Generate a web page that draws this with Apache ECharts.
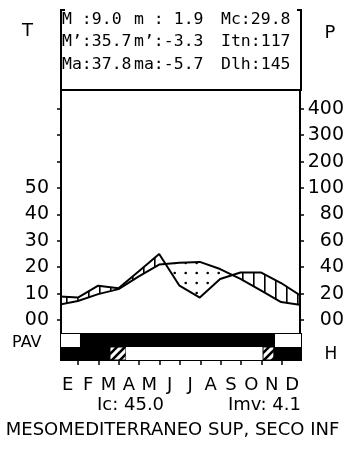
<!DOCTYPE html>
<html>
<head>
<meta charset="utf-8">
<script src="https://cdn.jsdelivr.net/npm/echarts@6/dist/echarts.min.js"></script>
<style>
html, body { margin: 0; padding: 0; background: #fff; }
#chart { width: 347px; height: 449px; }
</style>
</head>
<body>
<div id="chart"></div>
<script>
// monthly values
const months = ['E', 'F', 'M', 'A', 'M', 'J', 'J', 'A', 'S', 'O', 'N', 'D']
const temp = [5.7, 7.2, 9.8, 11.7, 16.5, 21.0, 21.7, 22.0, 19.3, 15.6, 11.2, 6.8]   // degC
const precip = [18, 17, 26, 24, 37, 50, 26, 17, 31, 36, 36, 28]                       // mm
const tempTicks = [0, 10, 20, 30, 40, 50, 60, 70, 80]
const tempLabels = ['00', '10', '20', '30', '40', '50']
const precipLabels = ['00', '20', '40', '60', '80', '100', '200', '300', '400']

// PAV band, [from, to, kind] in month units
const frostRow = [[0, 1.1, 'white'], [1.1, 10.66, 'black'], [10.66, 12, 'white']]
const pavRow = [[0, 2.57, 'black'], [2.57, 3.35, 'hatch'], [3.35, 10.07, 'white'], [10.07, 10.6, 'hatch'], [10.6, 12, 'black']]

const headerRows = [
  ['M :9.0', 'm : 1.9', 'Mc:29.8'],
  ['M\u2019:35.7', 'm\u2019:-3.3', 'Itn:117'],
  ['Ma:37.8', 'ma:-5.7', 'Dlh:145']
]
const indexTexts = ['Ic: 45.0', 'Imv: 4.1']
const bioclimate = 'MESOMEDITERRANEO SUP, SECO INF'

const SANS = '"DejaVu Sans", sans-serif'
const MONO = '"DejaVu Sans Mono", monospace'

// precipitation on the temperature scale: 1:2 up to 100 mm, 1:20 above
function pAxis(p) { return p <= 100 ? p / 2 : 50 + (p - 100) / 10 }

function makePattern(w, h, draw) {
  const c = document.createElement('canvas')
  c.width = w; c.height = h
  const ctx = c.getContext('2d')
  draw(ctx)
  return { image: c, repeat: 'repeat' }
}
const humidFill = makePattern(11, 4, ctx => { ctx.fillStyle = '#000'; ctx.fillRect(0, 0, 1.6, 4) })
const dryFill = makePattern(11, 10, ctx => {
  ctx.fillStyle = '#000'; ctx.beginPath(); ctx.arc(9.7, 3, 1.3, 0, Math.PI * 2); ctx.fill()
})
const diagFill = makePattern(8, 8, ctx => {
  ctx.fillStyle = '#fff'; ctx.fillRect(0, 0, 8, 8)
  ctx.strokeStyle = '#000'; ctx.lineWidth = 2.6
  ctx.beginPath()
  ctx.moveTo(-2, 10); ctx.lineTo(10, -2)
  ctx.moveTo(-2, 2); ctx.lineTo(2, -2)
  ctx.moveTo(6, 10); ctx.lineTo(10, 6)
  ctx.stroke()
})

const idx = months.map((_, i) => i).concat([12])   // January repeated at the right edge
const tempLine = idx.map(i => [i, temp[i % 12]])
const precLine = idx.map(i => [i, pAxis(precip[i % 12])])
const between = months.map((_, i) => {
  const j = (i + 1) % 12
  return [i, temp[i], pAxis(precip[i]), temp[j], pAxis(precip[j])]
})
const bandItems = frostRow.map(r => [r[0], r[1], 1, r[2]]).concat(pavRow.map(r => [r[0], r[1], 0, r[2]]))

function renderBetween(params, api) {
  const x0 = api.value(0), x1 = x0 + 1
  const t0 = api.value(1), p0 = api.value(2), t1 = api.value(3), p1 = api.value(4)
  const d0 = p0 - t0, d1 = p1 - t1
  const poly = (pts, humid) => ({
    type: 'polygon',
    shape: { points: pts.map(p => api.coord(p)) },
    style: { fill: humid ? humidFill : dryFill, stroke: null }
  })
  const children = []
  if (d0 * d1 >= 0) {
    children.push(poly([[x0, p0], [x1, p1], [x1, t1], [x0, t0]], d0 + d1 >= 0))
  } else {
    const f = d0 / (d0 - d1)
    const c = [x0 + f, t0 + f * (t1 - t0)]
    children.push(poly([[x0, p0], c, [x0, t0]], d0 > 0))
    children.push(poly([c, [x1, p1], [x1, t1]], d1 > 0))
  }
  return { type: 'group', children }
}

function renderBand(params, api) {
  const kind = bandItems[params.dataIndex][3]
  const a = api.coord([api.value(0), api.value(2) + 1])
  const b = api.coord([api.value(1), api.value(2)])
  return {
    type: 'rect',
    shape: { x: a[0], y: a[1], width: b[0] - a[0], height: b[1] - a[1] },
    style: {
      fill: kind === 'black' ? '#000' : kind === 'hatch' ? diagFill : '#fff',
      stroke: kind === 'hatch' ? '#000' : null,
      lineWidth: 1
    }
  }
}

const xRange = { min: 0.17, max: 11.93 }
const yRange = { min: -5.3, max: 87.1 }

const headerText = []
const colX = [62, 134, 221], rowY = [19.5, 41.5, 65]
headerRows.forEach((row, r) => row.forEach((t, c) => headerText.push({
  type: 'text', x: colX[c], y: rowY[r],
  style: { text: t, font: '16.5px ' + MONO, fill: '#000', verticalAlign: 'middle' }
})))

const chart = echarts.init(document.getElementById('chart'), null, { renderer: 'canvas' })
chart.setOption({
  animation: false,
  backgroundColor: '#fff',
  grid: [
    { left: 61, top: 90, width: 240, height: 244, show: true, borderColor: '#000', borderWidth: 2, backgroundColor: '#fff' },
    { left: 61, top: 334, width: 240, height: 26, show: true, borderColor: '#000', borderWidth: 2 }
  ],
  xAxis: [
    { gridIndex: 0, type: 'value', ...xRange, show: false },
    {
      gridIndex: 1, type: 'value', ...xRange,
      axisLine: { show: false },
      splitLine: { show: false },
      axisTick: { customValues: [1, 2, 3, 4, 5, 6, 7, 8, 9, 10, 11], length: 5, lineStyle: { color: '#000', width: 1.5 } },
      axisLabel: {
        customValues: months.map((_, i) => i + 0.5),
        formatter: v => months[Math.floor(v)],
        margin: 16, color: '#000', fontFamily: SANS, fontSize: 18
      }
    }
  ],
  yAxis: [
    {
      gridIndex: 0, type: 'value', position: 'left', ...yRange,
      splitLine: { show: false },
      axisLine: { show: true, lineStyle: { color: '#000', width: 2 } },
      axisTick: { customValues: tempTicks, length: 4, lineStyle: { color: '#000', width: 1.5 } },
      axisLabel: {
        customValues: [0, 10, 20, 30, 40, 50],
        formatter: v => tempLabels[Math.round(v / 10)],
        margin: 12, color: '#000', fontFamily: SANS, fontSize: 19,
        verticalAlign: 'middle', padding: [0, 0, 10, 0]
      }
    },
    {
      gridIndex: 0, type: 'value', position: 'right', ...yRange,
      splitLine: { show: false },
      axisLine: { show: true, lineStyle: { color: '#000', width: 2 } },
      axisTick: { customValues: tempTicks, length: 4, lineStyle: { color: '#000', width: 1.5 } },
      axisLabel: {
        customValues: tempTicks,
        formatter: v => precipLabels[Math.round(v / 10)],
        margin: 44, align: 'right', color: '#000', fontFamily: SANS, fontSize: 19,
        verticalAlign: 'middle', padding: [0, 0, 10, 0]
      }
    },
    { gridIndex: 1, type: 'value', min: 0, max: 2, show: false }
  ],
  series: [
    {
      type: 'custom', xAxisIndex: 0, yAxisIndex: 0, clip: true, z: 1,
      renderItem: renderBetween, data: between
    },
    {
      type: 'line', xAxisIndex: 0, yAxisIndex: 0, data: precLine, showSymbol: false, z: 3,
      lineStyle: { color: '#000', width: 2 }
    },
    {
      type: 'line', xAxisIndex: 0, yAxisIndex: 0, data: tempLine, showSymbol: false, z: 3,
      lineStyle: { color: '#000', width: 2 }
    },
    {
      type: 'custom', xAxisIndex: 1, yAxisIndex: 2, clip: true,
      renderItem: renderBand, data: bandItems
    }
  ],
  graphic: [
    {
      type: 'polyline', z: 10,
      shape: { points: [[65, 10], [61, 10], [61, 90], [301, 90], [301, 10], [297, 10]] },
      style: { stroke: '#000', lineWidth: 2, fill: null }
    },
    ...headerText,
    { type: 'text', x: 27.5, y: 31, style: { text: 'T', font: '18px ' + SANS, fill: '#000', align: 'center', verticalAlign: 'middle' } },
    { type: 'text', x: 330, y: 33, style: { text: 'P', font: '18px ' + SANS, fill: '#000', align: 'center', verticalAlign: 'middle' } },
    { type: 'text', x: 12, y: 343, style: { text: 'PAV', font: '16px ' + SANS, fill: '#000', verticalAlign: 'middle' } },
    { type: 'text', x: 331, y: 355, style: { text: 'H', font: '17px ' + SANS, fill: '#000', align: 'center', verticalAlign: 'middle' } },
    { type: 'text', x: 97, y: 405, style: { text: indexTexts[0], font: '18px ' + SANS, fill: '#000', verticalAlign: 'middle' } },
    { type: 'text', x: 228, y: 405, style: { text: indexTexts[1], font: '18px ' + SANS, fill: '#000', verticalAlign: 'middle' } },
    { type: 'text', x: 172.5, y: 430, style: { text: bioclimate, font: '18px ' + SANS, fill: '#000', align: 'center', verticalAlign: 'middle' } }
  ]
})
</script>
</body>
</html>
